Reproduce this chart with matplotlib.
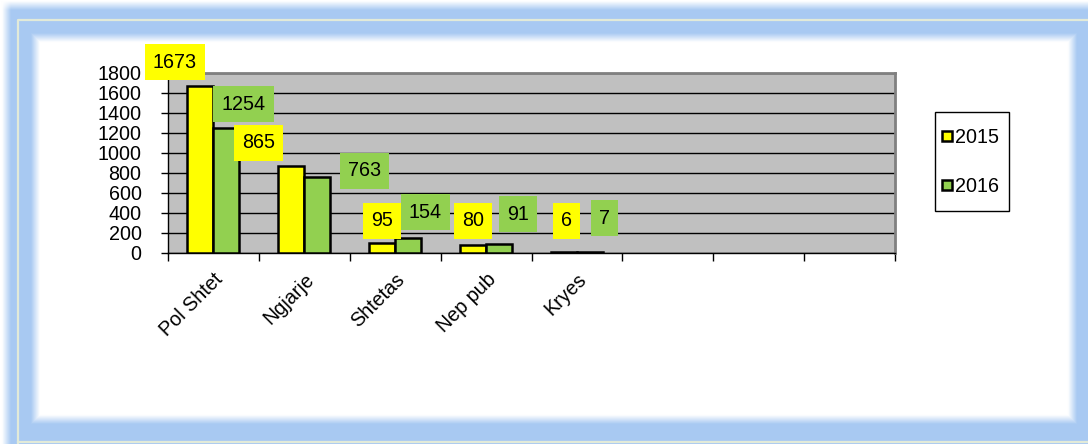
import numpy as np
import matplotlib
matplotlib.use('Agg')
import matplotlib.pyplot as plt
from matplotlib.lines import Line2D
from matplotlib.patches import Rectangle

plt.rcParams['font.family'] = ['Liberation Sans', 'DejaVu Sans']

# data
categories = ['Pol Shtet', 'Ngjarje', 'Shtetas', 'Nep pub', 'Kryes', '', '', '']
years = ['2015', '2016']
values_2015 = [1673, 865, 95, 80, 6]
values_2016 = [1254, 763, 154, 91, 7]
y_ticks = [0, 200, 400, 600, 800, 1000, 1200, 1400, 1600, 1800]

# where excel dropped the value labels (offset from the bar top, in category / value units)
label_dx_2015 = [-0.28, -0.36, 0.0, 0.0, 0.03]
label_dy_2015 = [237, 235, 225, 240, 314]
label_dx_2016 = [0.19, 0.52, 0.19, 0.21, 0.16]
label_dy_2016 = [236, 57, 256, 299, 343]

yellow = '#ffff00'
green = '#92d050'
fs = 14.2

W, H = 1088, 444
fig = plt.figure(figsize=(W / 100, H / 100), dpi=100)

# --- decorative blue glowing frame ---
bg = fig.add_axes([0, 0, 1, 1])
yy, xx = np.mgrid[0:H, 0:W] + 0.5
x0, x1, y0, y1 = 31, 1077, 34, 424
d_in = np.minimum.reduce([xx - x0, x1 - xx, yy - y0, y1 - yy])
a = np.clip(1 - d_in / 9.0, 0, 1)
a *= np.clip((xx - 2) / 9.0, 0, 1) * np.clip((yy - 2) / 9.0, 0, 1)
img = np.ones((H, W, 3))
blue = np.array([0.66, 0.79, 0.95])
img = img * (1 - a[..., None]) + blue * a[..., None]
bg.imshow(img, extent=[0, W, H, 0], aspect='auto', interpolation='bilinear')
bg.plot([18, 18, W], [H, 20, 20], color='#e2ead8', lw=1.6)
bg.plot([18, W], [441.5, 441.5], color='#e2ead8', lw=1.6)
# legend frame
bg.add_patch(Rectangle((935, 112), 74, 99, fill=False, ec='black', lw=1))
bg.set_xlim(0, W)
bg.set_ylim(H, 0)
bg.axis('off')

# --- chart ---
ax = fig.add_axes([168 / W, 1 - 253 / H, (895 - 168) / W, (253 - 73) / H])
ax.set_facecolor('#c0c0c0')
ax.set_axisbelow(True)

n = len(categories)
x = np.arange(len(values_2015))
bw = 0.286
ax.bar(x - bw / 2, values_2015, bw, color=yellow, edgecolor='black', lw=1.8, zorder=3)
ax.bar(x + bw / 2, values_2016, bw, color=green, edgecolor='black', lw=1.8, zorder=3)

box = dict(boxstyle='square,pad=0.42', ec='none')
for i, v in enumerate(values_2015):
    ax.text(x[i] - bw / 2 + label_dx_2015[i], v + label_dy_2015[i], str(v),
            ha='center', va='center', fontsize=fs, zorder=5, clip_on=False,
            bbox=dict(box, fc=yellow))
for i, v in enumerate(values_2016):
    ax.text(x[i] + bw / 2 + label_dx_2016[i], v + label_dy_2016[i], str(v),
            ha='center', va='center', fontsize=fs, zorder=5, clip_on=False,
            bbox=dict(box, fc=green))

ax.set_xlim(-0.5, n - 0.5)
ax.set_ylim(0, 1800)
ax.set_yticks(y_ticks)
ax.yaxis.grid(True, color='black', lw=1)
ax.tick_params(axis='y', labelsize=fs, length=5, width=1, pad=14)

ax.set_xticks(np.arange(n))
ax.set_xticklabels(categories, rotation=45, ha='right', rotation_mode='anchor', fontsize=fs)
ax.set_xticks(np.arange(n + 1) - 0.5, minor=True)
ax.tick_params(axis='x', which='major', length=0, pad=12)
ax.tick_params(axis='x', which='minor', length=6, width=1)

for s in ['left', 'bottom']:
    ax.spines[s].set_color('black')
    ax.spines[s].set_linewidth(1)
for s in ['top', 'right']:
    ax.spines[s].set_color('#808080')
    ax.spines[s].set_linewidth(2)

handles = [Line2D([], [], ls='none', marker='s', ms=7, mfc=c, mec='black', mew=1.8)
           for c in (yellow, green)]
leg = fig.legend(handles, years, loc='center left', bbox_to_anchor=(942 / W, 1 - 162 / H),
                 fontsize=fs, frameon=False, handlelength=0.55,
                 handletextpad=0.1, labelspacing=1.5, borderpad=0, borderaxespad=0)

fig.savefig('out.png', dpi=100)
